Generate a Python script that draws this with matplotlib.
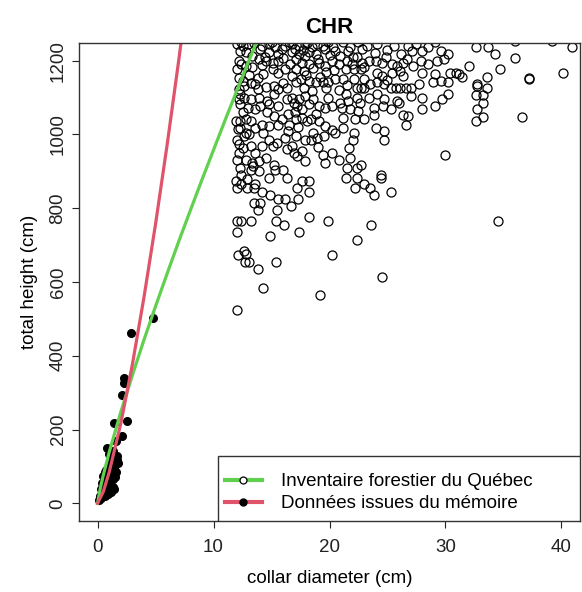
import matplotlib
matplotlib.use("Agg")
import matplotlib.pyplot as plt
from matplotlib.lines import Line2D
from matplotlib.patches import Rectangle

plt.rcParams["font.family"] = ["Liberation Sans", "DejaVu Sans"]

# Inventaire forestier du Quebec (open circles)
inv_x = [
    12.0, 12.5, 13.0, 12.3, 12.8, 14.2, 14.8, 15.3, 16.2, 16.8, 17.4, 17.9, 18.5, 19.4, 19.6, 20.5, 20.9, 14.8, 15.6, 16.8, 17.4, 18.2, 18.8,
    12.2, 13.9, 14.5, 15.1, 15.6, 17.1, 17.6, 18.2, 19.1, 19.6, 20.2, 20.8, 17.1, 17.8, 15.1, 15.6, 16.2, 12.8, 12.0,
    12.2, 13.8, 13.6, 13.8, 15.2, 15.6, 16.3, 17.1, 17.5, 18.2, 18.8, 19.4, 19.9, 20.5, 12.2, 12.3, 12.6,
    12.2, 12.3, 13.9, 14.6, 14.0, 14.8, 15.6, 16.8, 16.9, 17.4, 17.9, 17.2, 17.6, 18.2, 19.1, 19.6, 20.2, 20.9, 13.0, 13.6,
    11.9, 12.3, 12.8, 13.2, 13.6, 14.2, 14.8, 15.2, 15.6, 15.9, 16.5, 17.1, 17.6, 18.1, 18.4, 19.1, 19.6, 20.2, 20.5, 12.3, 12.8,
    12.0, 12.6, 13.2, 13.6, 14.8, 15.1, 15.5, 16.2, 17.1, 17.9, 18.4, 18.9, 19.5, 16.8, 17.6, 12.5, 12.2,
    12.0, 12.8, 13.3, 13.9, 14.5, 15.2, 15.3, 16.9, 17.2, 17.9, 19.4, 19.6, 20.2, 20.8, 12.3, 13.2, 13.9,
    21.2, 21.8, 22.5, 23.2, 24.1, 25.6, 26.8, 27.1, 28.0, 29.1, 29.6, 30.2, 22.0, 22.4, 21.5, 22.8, 23.4, 24.0,
    24.5, 25.4, 25.8, 26.3, 26.7, 27.9, 29.3, 29.9, 21.4, 22.1, 22.7, 24.1, 24.5, 25.4, 26.1, 26.3, 28.0, 29.1,
    30.4, 31.2, 21.2, 22.1, 22.4, 22.7, 23.0, 23.5, 24.1, 24.7, 25.3, 25.7, 26.1, 26.6, 27.0, 27.7, 28.9, 29.6,
    30.2, 21.4, 22.4, 23.4, 24.1, 24.7, 25.8, 27.0, 28.0, 29.1, 29.7, 30.2, 21.1, 21.8, 22.5, 23.8, 23.8, 25.3,
    26.0, 26.3, 26.8, 26.6, 28.0, 21.2, 22.2, 23.0, 24.0, 24.7, 24.7, 21.2, 22.1, 22.0, 21.7, 30.0, 21.8, 22.7,
    22.4, 21.5, 24.4,
    32.6, 33.7, 34.3, 36.0, 36.0, 39.2, 40.9, 32.0, 31.4, 33.6, 34.7, 32.7, 32.7, 33.6, 32.6, 33.2, 33.2, 37.2,
    37.2, 40.1, 32.7, 33.2, 32.6, 36.6, 30.9,
    12.0, 14.25, 19.2, 24.5, 13.8, 15.4, 20.2, 12.1, 12.6, 12.8, 12.7, 13.1, 12.0, 14.85, 17.4, 22.4, 18.2, 19.9,
    23.6, 16.1, 15.4, 12.0, 12.4, 13.2, 34.5, 15.5, 16.7, 13.8, 13.5, 14.0, 15.6, 16.2, 17.3, 14.9, 14.2, 18.2,
    25.3, 23.85, 23.5, 23.0, 22.2, 17.2, 13.5, 13.6, 12.9, 12.0, 12.4, 11.9, 21.4, 22.4, 24.4, 14.8, 16.3, 18.2,
    17.6,
    12.4, 13.5, 14.0, 15.0, 15.9, 16.5, 17.0, 17.7, 18.1, 18.9, 19.9, 20.3, 13.3, 14.4, 16.0, 17.9, 19.0, 20.0,
    12.4, 13.3, 14.2, 16.6, 18.6, 19.7, 20.4, 13.1, 14.3, 16.8, 18.0, 19.2,
    12.5, 13.2, 14.5, 16.0, 17.8, 18.5, 19.7, 20.8, 12.6, 13.2, 15.2, 16.3, 18.6, 19.9,
    12.5, 14.6, 16.4, 17.0, 18.8, 12.1, 13.1, 14.3, 16.4, 17.3, 18.6, 12.2, 14.2, 16.3, 19.0, 12.4, 12.9, 13.4, 16.0,
    21.6, 22.8, 23.9, 25.0, 26.2, 27.5, 28.5, 21.9, 23.0, 24.9, 27.2, 28.5, 21.5, 23.0, 25.0, 22.6, 24.6, 21.6,
]
inv_y = [
    1245, 1241, 1245, 1227, 1223, 1241, 1245, 1236, 1241, 1245, 1241, 1245, 1236, 1241, 1232, 1227, 1213, 1223, 1218, 1223, 1218, 1223, 1218,
    1200, 1204, 1200, 1195, 1200, 1204, 1195, 1191, 1195, 1186, 1200, 1191, 1177, 1173, 1177, 1168, 1177, 1186, 1177,
    1154, 1154, 1136, 1123, 1132, 1123, 1127, 1141, 1150, 1145, 1141, 1141, 1141, 1150, 1123, 1109, 1132,
    1095, 1082, 1100, 1091, 1077, 1082, 1077, 1100, 1086, 1095, 1104, 1077, 1068, 1082, 1077, 1073, 1077, 1086, 1073, 1068,
    1036, 1036, 1041, 1036, 1018, 1027, 1023, 1050, 1027, 1041, 1027, 1041, 1045, 1036, 1041, 1036, 1023, 1013, 1004, 1018, 1004,
    986, 995, 968, 950, 986, 968, 977, 991, 995, 986, 986, 991, 995, 968, 954, 963, 950,
    932, 932, 923, 927, 936, 918, 904, 950, 941, 927, 945, 923, 950, 932, 909, 904, 900,
    1250, 1236, 1250, 1241, 1245, 1241, 1241, 1227, 1227, 1250, 1227, 1218, 1209, 1209, 1200, 1195, 1200, 1200,
    1195, 1191, 1186, 1195, 1204, 1200, 1200, 1204, 1177, 1177, 1177, 1168, 1159, 1168, 1173, 1159, 1168, 1163,
    1168, 1163, 1150, 1150, 1127, 1127, 1127, 1136, 1141, 1136, 1127, 1127, 1127, 1127, 1127, 1136, 1141, 1145,
    1141, 1109, 1100, 1100, 1109, 1095, 1091, 1104, 1100, 1077, 1095, 1109, 1073, 1068, 1064, 1073, 1054, 1068,
    1086, 1054, 1050, 1027, 1068, 1045, 1041, 1041, 1018, 1009, 986, 1018, 1004, 986, 963, 945, 936, 918,
    909, 909, 891,
    1236, 1236, 1218, 1254, 1206, 1254, 1236, 1186, 1157, 1156, 1177, 1136, 1132, 1127, 1106, 1106, 1086, 1154,
    1150, 1168, 1068, 1048, 1036, 1047, 1168,
    523, 584, 564, 614, 634, 654, 674, 674, 685, 675, 654, 654, 735, 725, 735, 715, 775, 765,
    755, 755, 765, 765, 765, 765, 765, 795, 805, 795, 815, 815, 825, 825, 825, 835, 845, 845,
    845, 835, 855, 866, 856, 856, 856, 866, 856, 856, 866, 875, 882, 882, 882, 882, 882, 875,
    875,
    1250, 1248, 1232, 1250, 1232, 1250, 1232, 1228, 1248, 1245, 1250, 1238, 1213, 1210, 1208, 1212, 1205, 1215,
    1190, 1182, 1188, 1190, 1180, 1170, 1176, 1160, 1165, 1158, 1160, 1155,
    1145, 1140, 1130, 1140, 1125, 1118, 1125, 1120, 1100, 1095, 1110, 1095, 1095, 1100,
    1060, 1060, 1055, 1060, 1055, 1015, 1000, 1005, 1010, 1020, 1005, 975, 970, 960, 965, 890, 880, 915, 905,
    1225, 1232, 1222, 1230, 1218, 1245, 1238, 1190, 1182, 1210, 1185, 1190, 1135, 1150, 1148, 1085, 1078, 1090,
]

# Donnees issues du memoire (filled points)
mem_x = [0.1, 0.2, 0.3, 0.4, 0.5, 0.6, 0.7, 0.8, 0.9, 1.0, 1.1, 1.2, 1.3, 1.4,
         0.3, 0.4, 0.5, 0.6, 0.7, 0.8, 0.9, 1.0, 1.1, 1.2, 1.3, 1.4, 1.5, 1.6,
         0.5, 0.6, 0.7, 0.8, 0.9, 1.0, 1.1, 1.2, 1.3, 1.4, 1.5, 1.6, 1.7, 1.7, 1.8,
         0.8, 1.3, 1.0, 1.1, 1.55, 1.4, 2.56, 2.13, 2.07, 2.27, 2.3, 2.85, 4.8]
mem_y = [10, 20, 15, 30, 25, 20, 35, 30, 25, 35, 40, 30, 45, 40,
         40, 55, 45, 60, 50, 65, 55, 70, 60, 75, 65, 80, 70, 85,
         75, 85, 90, 80, 95, 100, 90, 105, 110, 95, 115, 120, 127, 118, 110,
         150, 141, 135, 120, 169, 218, 223, 182, 294, 341, 327, 463, 503]

# fitted curves, points
green_x = [0, 0.25, 0.5, 1, 2, 3, 4, 5, 6, 7, 8, 9, 10, 11, 12, 13, 14, 15]
green_y = [0, 43, 77, 138, 247, 347, 443, 534, 623, 710, 794, 877, 958, 1039, 1118, 1196, 1273, 1349]
red_x = [0, 0.5, 1, 2, 3, 4, 5, 6, 7, 8]
red_y = [0, 32, 84, 216, 376, 558, 757, 972, 1201, 1442]

green = "#61D04F"
red = "#DF536B"

fig = plt.figure(figsize=(5.82, 5.92), dpi=100)
ax = fig.add_axes([79 / 582, 1 - 521 / 592, 501 / 582, 478 / 592])

ax.plot(inv_x, inv_y, "o", mfc="none", mec="black", ms=6.5, mew=0.9, ls="none")
ax.plot(mem_x, mem_y, "o", mfc="black", mec="black", ms=5.5, ls="none")
ax.plot(green_x, green_y, color=green, lw=2.3)
ax.plot(red_x, red_y, color=red, lw=2.3)

ax.set_xlim(-1.6, 41.6)
ax.set_ylim(-48, 1248)
ax.set_xticks([0, 10, 20, 30, 40])
ax.set_yticks([0, 200, 400, 600, 800, 1000, 1200])
ax.tick_params(axis="both", direction="out", length=5, width=0.8, labelsize=13.5, colors="#222222")
ax.tick_params(axis="x", pad=8)
ax.tick_params(axis="y", pad=4)
for lab in ax.get_yticklabels():
    lab.set_rotation(90)
    lab.set_va("center")
for sp in ax.spines.values():
    sp.set_linewidth(1.0)
    sp.set_color("#333333")

ax.set_title("CHR", fontsize=16, fontweight="bold", pad=7)
ax.set_xlabel("collar diameter (cm)", fontsize=13.5, labelpad=10)
ax.set_ylabel("total height (cm)", fontsize=13.5, labelpad=8)

# legend box (bottom right, touching the frame)
box = Rectangle((0.2774, 0), 0.7226, 0.136, transform=ax.transAxes, facecolor="white",
                edgecolor="#333333", lw=1.0, zorder=5)
ax.add_patch(box)
handles = [
    Line2D([], [], color=green, lw=3, marker="o", mfc="white", mec="black", ms=5, mew=0.9),
    Line2D([], [], color=red, lw=3, marker="o", mfc="black", mec="black", ms=5),
]
leg = ax.legend(handles, ["Inventaire forestier du Québec", "Données issues du mémoire"],
                loc="center left", bbox_to_anchor=(0.2774, 0.059), borderaxespad=0,
                fontsize=13.5, frameon=False, handlelength=2.0, handletextpad=1.0,
                labelspacing=0.26, borderpad=0.35, numpoints=1)
leg.set_zorder(6)

fig.savefig("out.png", dpi=100)
